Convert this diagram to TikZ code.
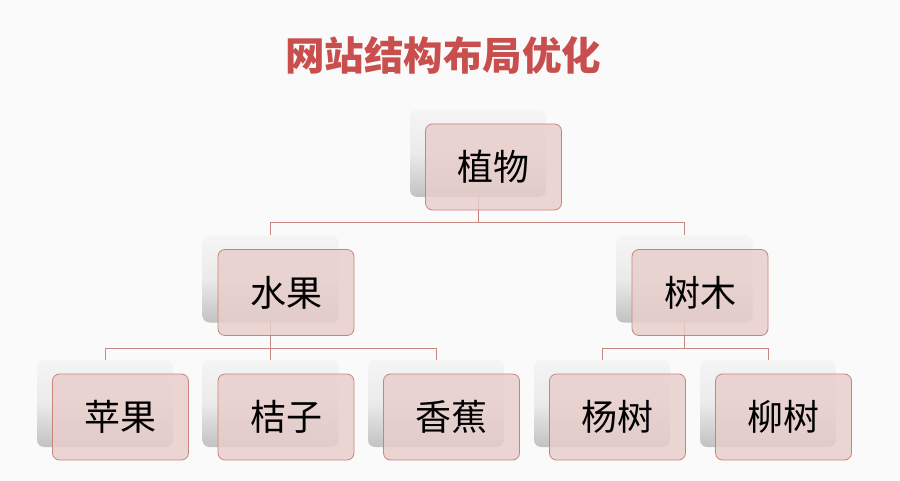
\documentclass[tikz,border=0pt]{standalone}
\usepackage{fontspec}
\usetikzlibrary{calc}
\newfontfamily\cjk{Noto Sans CJK SC}
\definecolor{bg}{RGB}{250,250,250}
\definecolor{titlered}{RGB}{201,79,78}
\definecolor{pinkfill}{RGB}{232,206,203}
\definecolor{pinkline}{RGB}{202,130,124}
\definecolor{connc}{RGB}{200,135,128}
\tikzset{
  shadowbox/.style={rounded corners=7pt, top color=white!96!black, bottom color=black!24, middle color=white!92!black, draw=none, minimum width=136pt, minimum height=87pt, inner sep=0pt},
  pinkbox/.style={rounded corners=7pt, fill=pinkfill, fill opacity=0.82, text opacity=1, draw=pinkline, line width=0.8pt, minimum width=136pt, minimum height=86pt, inner sep=0pt, font=\cjk\fontsize{36}{36}\selectfont},
  conn/.style={draw=connc, line width=0.9pt},
  titletext/.style={font=\cjk\bfseries\fontsize{39.5}{39.5}\selectfont, text=titlered, inner sep=0pt}
}
\begin{document}
\begin{tikzpicture}[x=1pt,y=-1pt]
\fill[bg] (0,0) rectangle (900,481);
\useasboundingbox (0,0) rectangle (900,481);
\node[titletext] (title) at (443,55) {网站结构布局优化};
% shadow boxes
\node[shadowbox] (s1) at (478,153.5) {};
\node[shadowbox] (s2) at (270.5,279) {};
\node[shadowbox] (s3) at (684.5,279) {};
\node[shadowbox] (s4) at (105,403.5) {};
\node[shadowbox] (s5) at (270.5,403.5) {};
\node[shadowbox] (s6) at (436,403.5) {};
\node[shadowbox] (s7) at (602,403.5) {};
\node[shadowbox] (s8) at (768,403.5) {};
% junctions
\coordinate (j1) at (478,222);
\coordinate (j2) at (270.5,348);
\coordinate (j3) at (684.5,348);
% connectors
\draw[conn] (s1.south) -- (j1) -| (s2.north);
\draw[conn] (j1) -| (s3.north);
\draw[conn] (s2.south) -- (j2) -| (s4.north);
\draw[conn] (j2) -- (s5.north);
\draw[conn] (j2) -| (s6.north);
\draw[conn] (s3.south) -- (j3) -| (s7.north);
\draw[conn] (j3) -| (s8.north);
% pink boxes
\node[pinkbox] (n1) at ($(s1.center)+(15.5,13.5)$) {植物};
\node[pinkbox] (n2) at ($(s2.center)+(15.5,13.5)$) {水果};
\node[pinkbox] (n3) at ($(s3.center)+(15.5,13.5)$) {树木};
\node[pinkbox] (n4) at ($(s4.center)+(15.5,13.5)$) {苹果};
\node[pinkbox] (n5) at ($(s5.center)+(15.5,13.5)$) {桔子};
\node[pinkbox] (n6) at ($(s6.center)+(15.5,13.5)$) {香蕉};
\node[pinkbox] (n7) at ($(s7.center)+(15.5,13.5)$) {杨树};
\node[pinkbox] (n8) at ($(s8.center)+(15.5,13.5)$) {柳树};
\end{tikzpicture}
\end{document}
